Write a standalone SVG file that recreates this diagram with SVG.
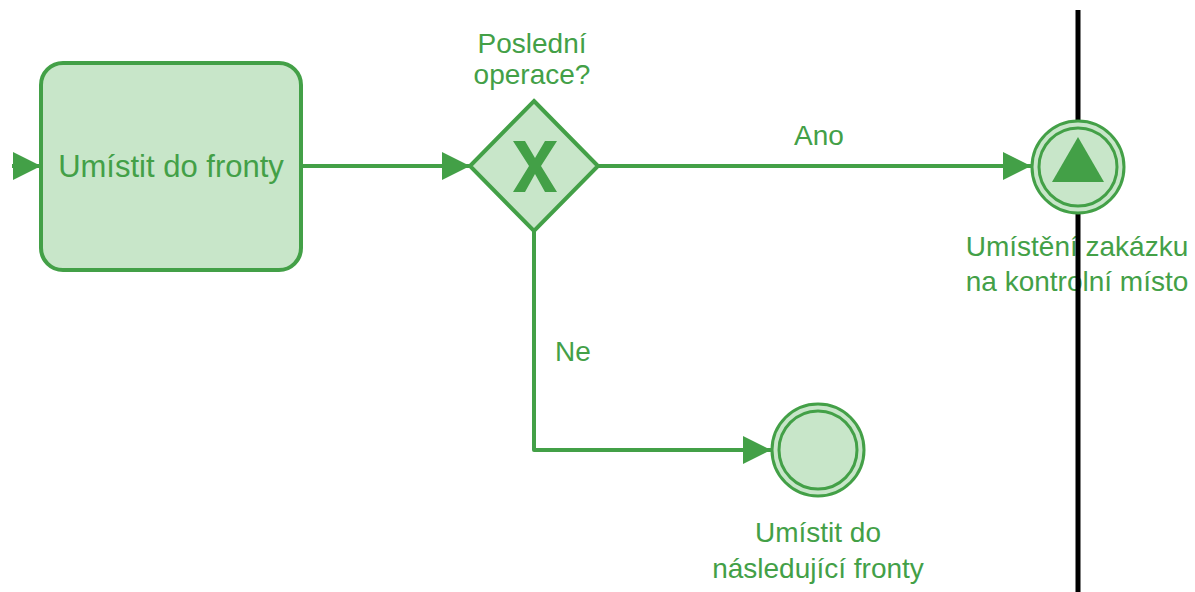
<svg xmlns="http://www.w3.org/2000/svg" width="1195" height="592" viewBox="0 0 1195 592">
  <style>
    .shape { fill: #c8e6c9; stroke: #43a047; stroke-width: 4; }
    .ring { fill: none; stroke: #43a047; stroke-width: 3; }
    .mark { fill: #43a047; stroke: none; }
    .flow { fill: none; stroke: #43a047; stroke-width: 4; stroke-linejoin: round; }
    .lbl { font-family: "Liberation Sans", Arial, sans-serif; font-size: 28px; fill: #43a047; text-anchor: middle; }
    .big { font-size: 31px; }
  </style>
  <defs>
    <marker id="arrow" markerUnits="userSpaceOnUse" markerWidth="30" markerHeight="30" viewBox="0 0 30 30" refX="28" refY="15" orient="auto">
      <path d="M0,1 L28,15 L0,29 Z" fill="#43a047"/>
    </marker>
  </defs>
  <rect width="1195" height="592" fill="#ffffff"/>

  <!-- sequence flows -->
  <g id="connectors">
    <path class="flow" d="M12,166 L41,166" marker-end="url(#arrow)"/>
    <path class="flow" d="M301,166 L470,166" marker-end="url(#arrow)"/>
    <path class="flow" d="M598,166 L1031,166" marker-end="url(#arrow)"/>
    <path class="flow" d="M534,231 L534,450 L771,450" marker-end="url(#arrow)"/>
    <text class="lbl" x="819" y="145">Ano</text>
    <text class="lbl" x="573" y="361">Ne</text>
  </g>

  <!-- task -->
  <g id="task-queue">
    <rect class="shape" x="41" y="63" width="260" height="207" rx="22" ry="22"/>
    <text class="lbl big" x="171" y="177">Umístit do fronty</text>
  </g>

  <!-- exclusive gateway -->
  <g id="gateway-last-op">
    <polygon class="shape" points="534,101 598,166 534,231 470,166"/>
    <polygon class="mark" points="513,141 525,141 535,158 545,141 557,141 541,166 557,192 545,192 535,174 525,192 513,192 529,166"/>
    <text class="lbl" x="532" y="53">Poslední</text>
    <text class="lbl" x="532" y="84">operace?</text>
  </g>

  <!-- labels of the checkpoint event sit under the lane line -->
  <g id="checkpoint-label">
    <text class="lbl" x="1077" y="256">Umístění zakázku</text>
    <text class="lbl" x="1077" y="291">na kontrolní místo</text>
  </g>

  <!-- lane boundary -->
  <line x1="1078" y1="10" x2="1078" y2="592" stroke="#000000" stroke-width="5"/>

  <!-- end event: checkpoint -->
  <g id="end-checkpoint">
    <circle class="shape" cx="1078" cy="167" r="46" style="stroke-width:3"/>
    <circle class="ring" cx="1078" cy="167" r="39"/>
    <polygon class="mark" points="1078,137 1104,182 1052,182"/>
  </g>

  <!-- end event: next queue -->
  <g id="end-next-queue">
    <circle class="shape" cx="818" cy="450" r="46" style="stroke-width:3"/>
    <circle class="ring" cx="818" cy="450" r="39"/>
    <text class="lbl" x="818" y="542">Umístit do</text>
    <text class="lbl" x="818" y="578">následující fronty</text>
  </g>
</svg>
